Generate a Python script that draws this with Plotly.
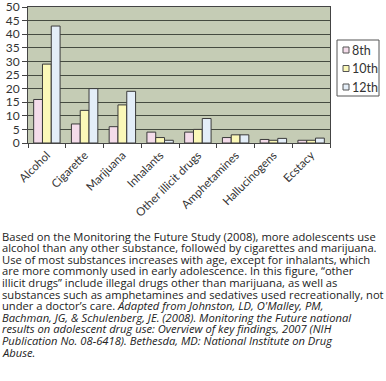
import plotly.graph_objects as go

categories = ["Alcohol", "Cigarette", "Marijuana", "Inhalants", "Other illicit drugs",
              "Amphetamines", "Hallucinogens", "Ecstacy"]
grade8 = [16, 7, 6, 4, 4, 2, 1.3, 1]
grade10 = [29, 12, 14, 2, 5, 3, 1, 1]
grade12 = [43, 20, 19, 1, 9, 3, 1.7, 1.8]
series_names = ["8th", "10th", "12th"]
series_colors = ["#f4dcea", "#fbf8b8", "#e4eef8"]

caption_lines = [
    "Based on the Monitoring the Future Study (2008), more adolescents use",
    "alcohol than any other substance, followed by cigarettes and marijuana.",
    "Use of most substances increases with age, except for inhalants, which",
    "are more commonly used in early adolescence. In this figure, \u201cother",
    "illicit drugs\u201d include illegal drugs other than marijuana, as well as",
    "substances such as amphetamines and sedatives used recreationally, not",
    "under a doctor\u2019s care. <i>Adapted from Johnston, LD, O'Malley, PM,</i>",
    "<i>Bachman, JG, & Schulenberg, JE. (2008). Monitoring the Future national</i>",
    "<i>results on adolescent drug use: Overview of key findings, 2007 (NIH</i>",
    "<i>Publication No. 08-6418). Bethesda, MD: National Institute on Drug</i>",
    "<i>Abuse.</i>",
]

W, H = 386, 381
L, R, T, B = 28, 56, 7, 238
PW, PH = W - L - R, H - T - B


def px_x(px):
    return (px - L) / PW


def px_y(py):
    return (H - B - py) / PH


fig = go.Figure()
for name, vals, col in zip(series_names, [grade8, grade10, grade12], series_colors):
    fig.add_trace(go.Bar(x=categories, y=vals, name=name, marker_color=col,
                         marker_line=dict(color="#3a3a3a", width=1), showlegend=False))

fig.update_layout(
    width=W, height=H,
    margin=dict(l=L, r=R, t=T, b=B),
    paper_bgcolor="white", plot_bgcolor="#c5ccb5",
    barmode="group", bargap=0.3, bargroupgap=0,
    font=dict(family="Lato, Open Sans, sans-serif", color="#333"),
    showlegend=False,
)
fig.update_yaxes(range=[0, 50], dtick=5, showgrid=True, gridcolor="#454b40", gridwidth=1,
                 ticks="outside", ticklen=5, tickcolor="#444", automargin=False,
                 ticklabeloverflow="allow",
                 showline=True, linecolor="#444", mirror=True,
                 tickfont=dict(size=12, color="#333"), zeroline=False)
fig.update_xaxes(tickangle=-45, ticks="outside", tickson="boundaries", ticklen=4,
                 tickcolor="#444", showline=True, linecolor="#444", mirror=True,
                 automargin=False, ticklabeloverflow="allow",
                 tickfont=dict(size=11.5, color="#333"))

# custom legend box
fig.add_shape(type="rect", xref="paper", yref="paper",
              x0=px_x(337), x1=px_x(379), y0=px_y(96), y1=px_y(40),
              line=dict(color="#555", width=1), fillcolor="white")
for i, (name, col) in enumerate(zip(series_names, series_colors)):
    cy = 50 + i * 18.5
    fig.add_shape(type="rect", xref="paper", yref="paper",
                  x0=px_x(343), x1=px_x(349), y0=px_y(cy + 3), y1=px_y(cy - 3),
                  line=dict(color="#555", width=1), fillcolor=col)
    fig.add_annotation(text=name, xref="paper", yref="paper", x=px_x(349.5), y=px_y(cy),
                       xanchor="left", yanchor="middle", showarrow=False,
                       font=dict(size=12.5, color="#333"))

for i, line in enumerate(caption_lines):
    ypix = 236 + i * 11.6
    fig.add_annotation(text=line, xref="paper", yref="paper", x=px_x(0), y=px_y(ypix),
                       xanchor="left", yanchor="middle", showarrow=False, align="left",
                       font=dict(size=11.2, color="#222", family="Open Sans, sans-serif"))

fig.write_html("out.html", config={"displayModeBar": False},
               post_script="document.body.style.margin='0';document.body.style.padding='0';")
